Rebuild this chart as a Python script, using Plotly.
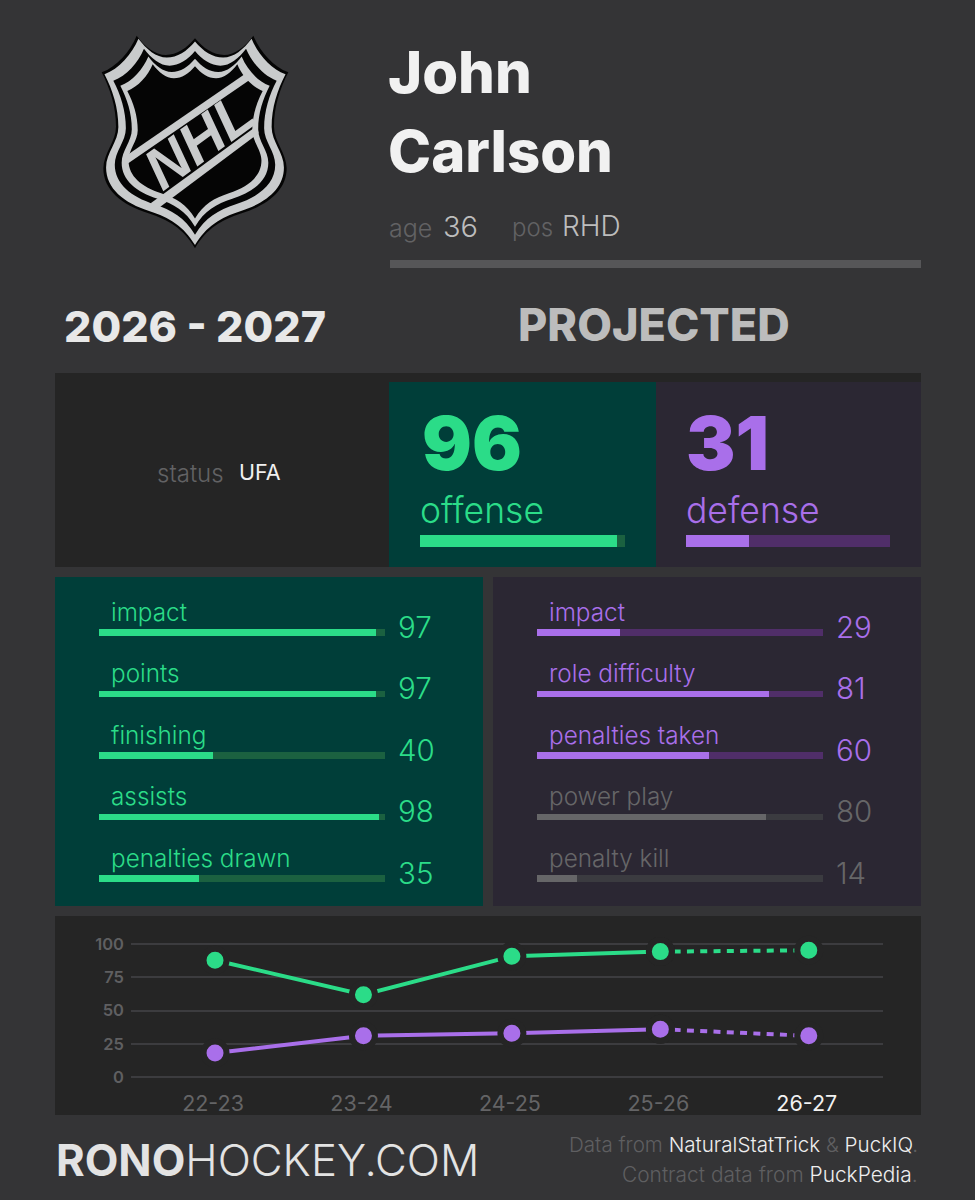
import plotly.graph_objects as go

W, H = 975, 1200
FONT = "Inter"
BG = "#343436"; DARK = "#252525"; GREEN = "#2bdc88"; PURPLE = "#a96fea"
GREEN_BG = "#003e39"; PURPLE_BG = "#2b2733"
GREEN_DIM = "#1b6140"; PURPLE_DIM = "#502e69"; GREY = "#666668"; GREY_DIM = "#3b3b40"
GREY_TXT = "#626264"

# ---- data ----
player_first = "John"
player_last = "Carlson"
age = "36"
position = "RHD"
season = "2026 - 2027"
contract_status = "UFA"
offense_total = 96
defense_total = 31
offense_metrics = ["impact", "points", "finishing", "assists", "penalties drawn"]
offense_values = [97, 97, 40, 98, 35]
defense_metrics = ["impact", "role difficulty", "penalties taken", "power play", "penalty kill"]
defense_values = [29, 81, 60, 80, 14]
defense_active = [True, True, True, False, False]
seasons = ["22-23", "23-24", "24-25", "25-26", "26-27"]
offense_history = [88, 62, 91, 94.5, 95.5]
defense_history = [18, 31, 33, 36, 31]
y_ticks = [0, 25, 50, 75, 100]


def px(v): return v / W
def py(v): return 1 - v / H


def rect(x0, y0, x1, y1, color):
    return dict(type="rect", xref="paper", yref="paper", x0=px(x0), x1=px(x1), y0=py(y0), y1=py(y1),
                fillcolor=color, line_width=0, layer="below")


shapes = [
    rect(0, 0, W, H, BG),
    rect(390, 260, 921, 268, "#565658"),
    rect(55, 373, 921, 567, DARK),
    rect(389, 382, 656, 567, GREEN_BG),
    rect(656, 382, 921, 567, PURPLE_BG),
    rect(55, 577, 483, 906, GREEN_BG),
    rect(493, 577, 921, 906, PURPLE_BG),
    rect(55, 916, 921, 1115, DARK),
]

# NHL shield, outlined in reference zoom units about its centre
LX0, LY0, LS = 80, 20, 1 / 3
CX, CY = 345, 360
half_outline = [
    ("M", (345, 55)),
    ("C", (320, 85), (290, 105), (258, 105)),
    ("C", (225, 105), (195, 80), (170, 47)),
    ("C", (150, 95), (110, 140), (65, 157)),
    ("C", (90, 205), (108, 260), (108, 320)),
    ("C", (108, 365), (70, 400), (70, 445)),
    ("C", (70, 510), (125, 555), (205, 580)),
    ("C", (265, 600), (310, 625), (345, 685)),
]


def shield_path(sx, sy=None, dy=0):
    sy = sy or sx
    def P(p, mirror=False):
        x, y = p
        if mirror:
            x = 2 * CX - x
        return f"{px(LX0 + LS * (CX + (x - CX) * sx)):.5f},{py(LY0 + LS * (CY + dy + (y - CY) * sy)):.5f}"
    d = "M" + P(half_outline[0][1])
    for seg in half_outline[1:]:
        d += " C" + " ".join(P(p) for p in seg[1:])
    pts = [half_outline[0][1]]
    for seg in half_outline[1:]:
        pts.extend(seg[1:])
    rev = pts[::-1]
    for i in range(1, len(rev), 3):
        d += " C" + " ".join(P(p, True) for p in rev[i:i + 3])
    return d + " Z"


def logo_shape(path, color):
    return dict(type="path", xref="paper", yref="paper", path=path, fillcolor=color, line_width=0, layer="below")


def logo_poly(points, color):
    d = "M" + " L".join(f"{px(LX0 + LS * x):.5f},{py(LY0 + LS * y):.5f}" for x, y in points) + " Z"
    return logo_shape(d, color)


SILVER = "#c9cbcc"
shapes += [
    logo_shape(shield_path(1.0), "#050505"),
    logo_shape(shield_path(0.97), SILVER),
    logo_shape(shield_path(0.875), "#050505"),
    logo_shape(shield_path(0.80), SILVER),
    logo_shape(shield_path(0.725), "#050505"),
    logo_poly([(132, 412), (498, 160), (512, 178), (136, 436)], SILVER),
    logo_poly([(212, 550), (530, 318), (536, 340), (232, 567)], SILVER),
]

A = []


def text(x, y, s, size, color, anchor="left", weight=400, font=FONT):
    A.append(dict(xref="paper", yref="paper", x=px(x), y=py(y), text=s, showarrow=False, xanchor=anchor,
                  yanchor="middle", align=anchor, font=dict(family=font, size=size, color=color, weight=weight)))


A.append(dict(xref="paper", yref="paper", x=px(198), y=py(140), text="<i>NHL</i>", textangle=-36, showarrow=False,
              xanchor="center", yanchor="middle",
              font=dict(family="Liberation Sans", size=58, color=SILVER, weight=700)))

text(386, 72, player_first, 58, "#f1f1f1", weight=800)
text(386, 151, player_last, 58, "#f1f1f1", weight=800)
text(387, 228, "age", 25, GREY_TXT, weight=300)
text(441, 226, age, 29, "#bdbdbd", weight=300)
text(510, 228, "pos", 24, GREY_TXT, weight=300)
text(560, 226, position, 28, "#bdbdbd", weight=300)
text(195, 326, season, 43, "#e8e8e8", "center", 800)
text(654, 325, "PROJECTED", 45, "#bcbcbc", "center", 800)
text(155, 473, "status", 24, GREY_TXT, weight=300)
text(237, 472, contract_status, 21.5, "#f0f0f0", weight=400)
text(420, 443, str(offense_total), 74, GREEN, weight=900)
text(684, 443, str(defense_total), 74, PURPLE, weight=900)
text(418, 511, "offense", 35.5, GREEN, weight=300)
text(684, 511, "defense", 35.5, PURPLE, weight=300)

# ---- footer ----
text(54, 1160, "<b>RONO</b>HOCKEY.COM", 43.7, "#e3e3e3", weight=300)
hl = lambda s: f'<span style="color:#eeeeee">{s}</span>'
text(920, 1144, f"Data from {hl('NaturalStatTrick')} &amp; {hl('PuckIQ')}.", 20.6, "#5f5f61", "right", 300)
text(920, 1174, f"Contract data from {hl('PuckPedia')}.", 20.9, "#5f5f61", "right", 300)

fig = go.Figure()


def dom_x(a, b): return [px(a), px(b)]
def dom_y(a, b): return [py(b), py(a)]


def hidden(**kw):
    return dict(visible=False, fixedrange=True, automargin=False, **kw)


layout_axes = {
    "xaxis": hidden(domain=dom_x(99, 385), range=[0, 100], anchor="y"),
    "yaxis": hidden(domain=dom_y(601.75, 909.25), range=[4.5, -0.5], anchor="x"),
    "xaxis2": hidden(domain=dom_x(537, 823), range=[0, 100], anchor="y2"),
    "yaxis2": hidden(domain=dom_y(601.75, 909.25), range=[4.5, -0.5], anchor="x2"),
    "xaxis3": hidden(domain=dom_x(420, 625), range=[0, 100], anchor="y3"),
    "yaxis3": hidden(domain=dom_y(535, 547), range=[-0.5, 0.5], anchor="x3"),
    "xaxis4": hidden(domain=dom_x(686, 890), range=[0, 100], anchor="y4"),
    "yaxis4": hidden(domain=dom_y(535, 547), range=[-0.5, 0.5], anchor="x4"),
}


def bars(values, y, colors, track, xa, ya, width):
    fig.add_bar(x=[100] * len(values), y=y, orientation="h", width=width, marker=dict(color=track, line_width=0),
                xaxis=xa, yaxis=ya, hoverinfo="skip", showlegend=False)
    fig.add_bar(x=values, y=y, orientation="h", width=width, marker=dict(color=colors, line_width=0),
                xaxis=xa, yaxis=ya, hoverinfo="skip", showlegend=False)


rows = list(range(5))
bars(offense_values, rows, [GREEN] * 5, [GREEN_DIM] * 5, "x", "y", 0.1)
d_col = [PURPLE if a else GREY for a in defense_active]
d_dim = [PURPLE_DIM if a else GREY_DIM for a in defense_active]
bars(defense_values, rows, d_col, d_dim, "x2", "y2", 0.1)
bars([offense_total], [0], [GREEN], [GREEN_DIM], "x3", "y3", 1)
bars([defense_total], [0], [PURPLE], [PURPLE_DIM], "x4", "y4", 1)


def metric_text(names, values, colors, xa, ya):
    for i, (n, v, c) in enumerate(zip(names, values, colors)):
        A.append(dict(xref=xa, yref=ya, x=0, y=i, xshift=10, yshift=21, text=n, showarrow=False, xanchor="left",
                      yanchor="middle", font=dict(family=FONT, size=24.3, color=c, weight=300)))
        A.append(dict(xref=xa, yref=ya, x=100, y=i, xshift=11, yshift=6, text=str(v), showarrow=False,
                      xanchor="left", yanchor="middle", font=dict(family=FONT, size=29.5, color=c, weight=300)))


metric_text(offense_metrics, offense_values, [GREEN] * 5, "x", "y")
metric_text(defense_metrics, defense_values, [PURPLE if a else GREY for a in defense_active], "x2", "y2")

# ---- history chart ----
idx = list(range(5))
for series, col in ((offense_history, GREEN), (defense_history, PURPLE)):
    marker = dict(size=23, color=col, line=dict(color=DARK, width=6))
    fig.add_scatter(x=idx[3:], y=series[3:], mode="lines+markers", line=dict(color=col, width=4, dash="7px,6.3px"),
                    marker=marker, xaxis="x5", yaxis="y5", hoverinfo="skip", showlegend=False, cliponaxis=False)
    fig.add_scatter(x=idx[:4], y=series[:4], mode="lines+markers", line=dict(color=col, width=4),
                    marker=marker, xaxis="x5", yaxis="y5", hoverinfo="skip", showlegend=False, cliponaxis=False)

ticktext = [f'<span style="color:#f2f2f2">{s}</span>' if s == seasons[-1] else s for s in seasons]
layout_axes["xaxis5"] = dict(domain=dom_x(131, 883), range=[-0.566, 4.5], anchor="y5", tickmode="array", tickvals=idx,
                             ticktext=ticktext, showgrid=False, zeroline=False, showline=False, ticks="", fixedrange=True,
                             ticklabelstandoff=10, ticklabelshift=-2, automargin=False,
                             tickfont=dict(family=FONT, size=21.5, color="#646466", weight=400))
# range runs just past 0 and 100 so both edge gridlines are drawn
layout_axes["yaxis5"] = dict(domain=dom_y(943, 1078.3), range=[-1, 101], anchor="x5", tickmode="array", tickvals=y_ticks,
                             showgrid=True, gridcolor="#3c3c3f", gridwidth=2, zeroline=False, showline=False, ticks="",
                             fixedrange=True, ticklabelstandoff=6, automargin=False,
                             tickfont=dict(family=FONT, size=16.5, color="#5f5f61", weight=600))

fig.update_layout(width=W, height=H, margin=dict(l=0, r=0, t=0, b=0, pad=0, autoexpand=False), paper_bgcolor=BG,
                  plot_bgcolor="rgba(0,0,0,0)", template="none",
                  barmode="overlay", bargap=0, shapes=shapes, annotations=A, hovermode=False, showlegend=False,
                  font=dict(family=FONT), **layout_axes)

fig.write_html("out.html", config=dict(displayModeBar=False, staticPlot=True),
               post_script="document.body.style.margin='0';document.body.style.background='" + BG + "';")
